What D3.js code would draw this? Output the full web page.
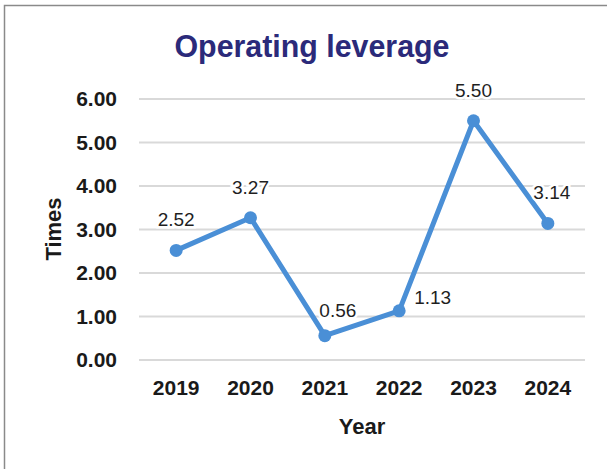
<!DOCTYPE html>
<html>
<head>
<meta charset="utf-8">
<script src="https://cdn.jsdelivr.net/npm/d3@7"></script>
<style>
  html, body { margin: 0; padding: 0; background: #fff; }
  svg { display: block; font-family: "Liberation Sans", Arial, sans-serif; }
</style>
</head>
<body>
<div id="chart"></div>
<script>
// chart data
const years = ["2019", "2020", "2021", "2022", "2023", "2024"];
const leverage = [2.52, 3.27, 0.56, 1.13, 5.50, 3.14];
const yTicks = [0, 1, 2, 3, 4, 5, 6];

const W = 607, H = 469;
const margin = {top: 99, right: 22, bottom: 109, left: 139};
const width = W - margin.left - margin.right;
const height = H - margin.top - margin.bottom;

const svg = d3.select("#chart")
    .append("svg")
    .attr("width", W)
    .attr("height", H);

// frame (top + left edge only)
svg.append("path")
    .attr("d", `M4.5,${H} L4.5,5.5 L${W},5.5`)
    .attr("fill", "none")
    .attr("stroke", "#8a8a8a")
    .attr("stroke-width", 1.5);

const g = svg.append("g")
    .attr("transform", `translate(${margin.left},${margin.top})`);

const x = d3.scaleBand()
    .domain(years)
    .range([0, width])
    .padding(0);

const y = d3.scaleLinear()
    .domain([0, 6])
    .range([height, 0]);

// gridlines
g.append("g")
    .selectAll("line")
    .data(yTicks)
    .join("line")
    .attr("x1", 0)
    .attr("x2", width)
    .attr("y1", d => y(d))
    .attr("y2", d => y(d))
    .attr("stroke", "#d9d9d9")
    .attr("stroke-width", 2);

// y axis
const yAxis = d3.axisLeft(y)
    .tickValues(yTicks)
    .tickFormat(d3.format(".2f"))
    .tickSize(0)
    .tickPadding(22);

g.append("g")
    .attr("class", "y-axis")
    .call(yAxis)
    .call(s => s.select(".domain").remove())
    .selectAll("text")
    .attr("font-size", 21)
    .attr("font-weight", "bold")
    .attr("fill", "#1a1a1a")
    .attr("font-family", "Liberation Sans, Arial, sans-serif");

// x axis
const xAxis = d3.axisBottom(x)
    .tickSize(0)
    .tickPadding(20);

g.append("g")
    .attr("class", "x-axis")
    .attr("transform", `translate(0,${height})`)
    .call(xAxis)
    .call(s => s.select(".domain").remove())
    .selectAll("text")
    .attr("font-size", 21)
    .attr("font-weight", "bold")
    .attr("fill", "#1a1a1a")
    .attr("font-family", "Liberation Sans, Arial, sans-serif");

// title
svg.append("text")
    .attr("x", 312)
    .attr("y", 57)
    .attr("text-anchor", "middle")
    .attr("font-size", 31)
    .attr("font-weight", "bold")
    .attr("fill", "#2b2a7a")
    .attr("textLength", 275)
    .attr("lengthAdjust", "spacingAndGlyphs")
    .text("Operating leverage");

// axis titles
svg.append("text")
    .attr("x", 362)
    .attr("y", 434)
    .attr("text-anchor", "middle")
    .attr("font-size", 22)
    .attr("font-weight", "bold")
    .attr("fill", "#1a1a1a")
    .text("Year");

svg.append("text")
    .attr("transform", "translate(61,229) rotate(-90)")
    .attr("text-anchor", "middle")
    .attr("font-size", 22)
    .attr("font-weight", "bold")
    .attr("fill", "#1a1a1a")
    .text("Times");

// line + markers
const cx = d => x(d) + x.bandwidth() / 2;
const points = years.map((yr, i) => ({year: yr, value: leverage[i]}));

const line = d3.line()
    .x(d => cx(d.year))
    .y(d => y(d.value));

g.append("path")
    .datum(points)
    .attr("d", line)
    .attr("fill", "none")
    .attr("stroke", "#4a8fd6")
    .attr("stroke-width", 5)
    .attr("stroke-linejoin", "round");

g.selectAll("circle.marker")
    .data(points)
    .join("circle")
    .attr("class", "marker")
    .attr("cx", d => cx(d.year))
    .attr("cy", d => y(d.value))
    .attr("r", 6.5)
    .attr("fill", "#4a8fd6");

// data labels: above the point, except the two low values which sit to the right
function labelX(d) {
    if (d.year === "2022") return cx(d.year) + 15;
    if (d.year === "2021") return cx(d.year) + 13;
    if (d.year === "2024") return cx(d.year) + 4;
    return cx(d.year);
}
function labelY(d) {
    if (d.year === "2022") return y(d.value) - 7;
    if (d.year === "2021") return y(d.value) - 19;
    return y(d.value) - 24;
}

g.selectAll("text.value")
    .data(points)
    .join("text")
    .attr("class", "value")
    .attr("x", labelX)
    .attr("y", labelY)
    .attr("text-anchor", d => d.year === "2022" ? "start" : "middle")
    .attr("font-size", 19)
    .attr("fill", "#1f1f1f")
    .attr("stroke", "#fff")
    .attr("stroke-width", 5)
    .attr("paint-order", "stroke")
    .text(d => d.value.toFixed(2));
</script>
</body>
</html>
